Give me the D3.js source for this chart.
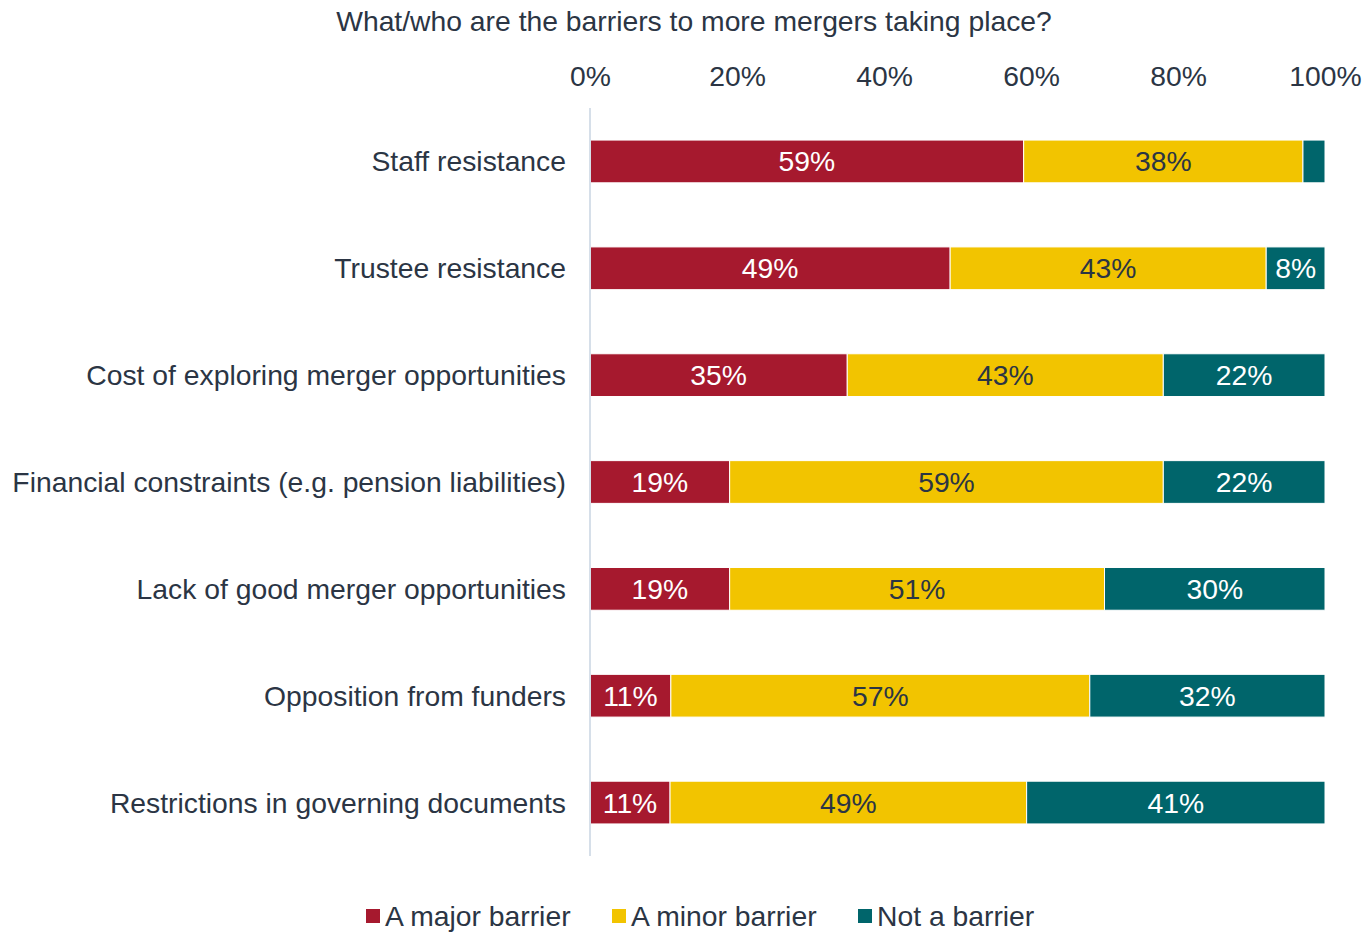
<!DOCTYPE html>
<html>
<head>
<meta charset="utf-8">
<script src="https://cdn.jsdelivr.net/npm/d3@7"></script>
<style>
  html, body { margin: 0; padding: 0; background: #fff; }
  svg { display: block; font-family: "Liberation Sans", Arial, sans-serif; }
</style>
</head>
<body>
<svg id="chart" width="1363" height="933"></svg>
<script>
// Survey responses: share of respondents per barrier (percent)
const categories = [
  "Staff resistance",
  "Trustee resistance",
  "Cost of exploring merger opportunities",
  "Financial constraints (e.g. pension liabilities)",
  "Lack of good merger opportunities",
  "Opposition from funders",
  "Restrictions in governing documents"
];
const seriesNames = ["A major barrier", "A minor barrier", "Not a barrier"];
const majorBarrier = [59, 49, 35, 19, 19, 11, 11];
const minorBarrier = [38, 43, 43, 59, 51, 57, 49];
const notBarrier   = [3, 8, 22, 22, 30, 32, 41];
const tickValues = [0, 20, 40, 60, 80, 100];
const title = "What/who are the barriers to more mergers taking place?";

const colors = ["#a6192e", "#f2c400", "#00656b"];
const labelColors = ["#ffffff", "#2b3544", "#ffffff"];
const textColor = "#2b3544";
const fontSize = 28.3;

const rows = categories.map((c, i) => ({
  category: c,
  values: [majorBarrier[i], minorBarrier[i], notBarrier[i]]
}));

const svg = d3.select("#chart");
const margin = { left: 590, right: 38, top: 108, bottom: 77 };
const W = 1363, H = 933;

const x = d3.scaleLinear().domain([0, 100]).range([margin.left, W - margin.right]);
const y = d3.scaleBand().domain(categories).range([margin.top, H - margin.bottom]).paddingInner(0.6).paddingOuter(0.3);

// Title
svg.append("text")
  .attr("x", 694).attr("y", 21)
  .attr("text-anchor", "middle").attr("dominant-baseline", "central")
  .attr("font-size", fontSize).attr("fill", textColor)
  .text(title);

// Top percentage axis
const xAxis = d3.axisTop(x).tickValues(tickValues).tickFormat(d => d + "%").tickSize(0).tickPadding(0);
const gx = svg.append("g").attr("transform", "translate(0,76)").call(xAxis);
gx.select(".domain").remove();
gx.selectAll("text")
  .attr("font-size", fontSize).attr("fill", textColor)
  .attr("font-family", "Liberation Sans, Arial, sans-serif")
  .attr("dy", null).attr("y", 0).attr("dominant-baseline", "central");

// Category axis
const yAxis = d3.axisLeft(y).tickSize(0).tickPadding(24);
const gy = svg.append("g").attr("transform", `translate(${margin.left},0)`).call(yAxis);
gy.select(".domain").remove();
gy.selectAll("text")
  .attr("font-size", fontSize).attr("fill", textColor)
  .attr("font-family", "Liberation Sans, Arial, sans-serif")
  .attr("dy", null).attr("dominant-baseline", "central");

// Stacked segments, each row normalised to 100%
const stackRows = rows.map(r => {
  const total = d3.sum(r.values);
  let acc = 0;
  return r.values.map((v, k) => {
    const s = { category: r.category, key: k, value: v, x0: acc / total * 100, x1: (acc + v) / total * 100 };
    acc += v;
    return s;
  });
}).flat();

const seg = svg.append("g").selectAll("g.seg").data(stackRows).join("g").attr("class", "seg");
seg.append("rect")
  .attr("x", d => x(d.x0))
  .attr("y", d => y(d.category))
  .attr("width", d => x(d.x1) - x(d.x0))
  .attr("height", y.bandwidth())
  .attr("fill", d => colors[d.key])
  .attr("stroke", "#ffffff").attr("stroke-width", 1);

seg.filter(d => d.value >= 5).append("text")
  .attr("x", d => (x(d.x0) + x(d.x1)) / 2)
  .attr("y", d => y(d.category) + y.bandwidth() / 2)
  .attr("text-anchor", "middle").attr("dominant-baseline", "central")
  .attr("font-size", fontSize)
  .attr("fill", d => labelColors[d.key])
  .text(d => d.value + "%");

// Vertical baseline at 0%
svg.append("line")
  .attr("x1", x(0)).attr("x2", x(0))
  .attr("y1", margin.top).attr("y2", H - margin.bottom)
  .attr("stroke", "#d6dfe9").attr("stroke-width", 2);

// Legend
const legendX = [366, 612, 858];
const lg = svg.append("g").selectAll("g").data(seriesNames).join("g")
  .attr("transform", (d, i) => `translate(${legendX[i]},916)`);
lg.append("rect").attr("x", 0).attr("y", -7).attr("width", 14).attr("height", 14)
  .attr("fill", (d, i) => colors[i]);
lg.append("text").attr("x", 19).attr("y", 0)
  .attr("dominant-baseline", "central")
  .attr("font-size", fontSize).attr("fill", textColor)
  .text(d => d);
</script>
</body>
</html>
